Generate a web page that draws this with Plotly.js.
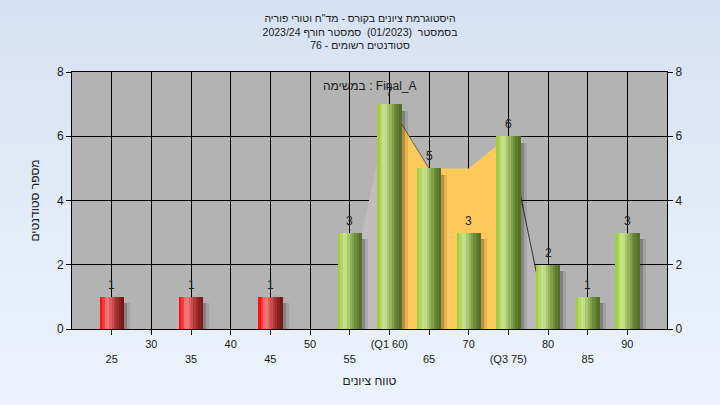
<!DOCTYPE html>
<html>
<head>
<meta charset="utf-8">
<script src="https://cdn.plot.ly/plotly-3.0.1.min.js"></script>
<style>
  html, body { margin:0; padding:0; width:720px; height:405px; overflow:hidden;
    background: linear-gradient(180deg, #d5e2f3 0%, #e3ecf8 55%, #edf3fc 100%); }
  #chart { width:720px; height:405px; }
</style>
</head>
<body>
<div id="chart"></div>
<script>
// ---- data ----
const grades = [25, 35, 45, 55, 60, 65, 70, 75, 80, 85, 90];
const counts = [1, 1, 1, 3, 7, 5, 3, 6, 2, 1, 3];
const passMark = 55;

const row1Ticks  = [30, 40, 50, 60, 70, 80, 90];
const row1Labels = ['30', '40', '50', '(Q1 60)', '70', '80', '90'];
const row2Ticks  = [25, 35, 45, 55, 65, 75, 85];
const row2Labels = ['25', '35', '45', '55', '65', '(Q3 75)', '85'];

const distX = [54, 60, 65, 70, 75, 80];
const distY = [0, 7, 5, 5, 6, 0];
const q1 = 60, q3 = 75;

const titleLines = [
  'היסטוגרמת ציונים בקורס - מד"ח וטורי פוריה',
  'בסמסטר  (01/2023)  סמסטר חורף 2023/24',
  'סטודנטים רשומים - 76'
];
const taskLabel = 'במשימה : Final_A';
const xTitle = 'טווח ציונים';
const yTitle = 'מספר סטודנטים';

// ---- styles ----
const greenShades = ['#a2cc44','#b4d866','#c4e287','#c0dc88','#aac872','#94b45c','#80a04a','#6e8c3c','#607e32','#56702a'];
const redShades   = ['#ff1010','#fa3a3a','#f46c6c','#ec7878','#dc6060','#c84c4c','#b23a3a','#9c2c2c','#8a2020','#7a1818'];
const barW = 3.0;
const font = 'Liberation Sans, Arial, sans-serif';

const traces = [];

// distribution area (main subplot, underneath the bars)
function sel(cond) {
  const xs = [], ys = [];
  distX.forEach((x, i) => { if (cond(x)) { xs.push(x); ys.push(distY[i]); } });
  return {xs, ys};
}
const left = sel(x => x <= q1), mid = sel(x => x >= q1 && x <= q3), right = sel(x => x >= q3);
traces.push({type:'scatter', mode:'lines', x:left.xs, y:left.ys, fill:'tozeroy',
  fillcolor:'#bdbdbd', line:{width:0}, hoverinfo:'skip'});
traces.push({type:'scatter', mode:'lines', x:mid.xs, y:mid.ys, fill:'tozeroy',
  fillcolor:'#fdc95b', line:{width:0}, hoverinfo:'skip'});
traces.push({type:'scatter', mode:'lines', x:mid.xs.slice(0, 2), y:mid.ys.slice(0, 2),
  line:{width:1, color:'rgba(60,60,60,0.7)'}, hoverinfo:'skip'});
traces.push({type:'scatter', mode:'lines', x:right.xs, y:right.ys, fill:'tozeroy',
  fillcolor:'#b9b9b9', line:{width:1, color:'#333'}, hoverinfo:'skip'});

// shadows (overlay subplot)
traces.push({type:'bar', x:grades, y:counts.map(c => c - 0.2), offset:barW/2, width:0.8,
  marker:{color:'rgba(0,0,0,0.10)', line:{width:0}}, xaxis:'x2', yaxis:'y2', hoverinfo:'skip'});
traces.push({type:'bar', x:grades, y:counts.map(c => c - 0.2), offset:barW/2, width:0.45,
  marker:{color:'rgba(0,0,0,0.20)', line:{width:0}}, xaxis:'x2', yaxis:'y2', hoverinfo:'skip'});

// cylinder bars as strips
const n = greenShades.length;
for (let i = 0; i < n; i++) {
  traces.push({type:'bar', x:grades, y:counts,
    offset: -barW/2 + i*barW/n, width: barW/n + 0.04,
    marker:{color: grades.map(g => g < passMark ? redShades[i] : greenShades[i]), line:{width:0}},
    xaxis:'x2', yaxis:'y2', hoverinfo:'skip'});
}

// value labels above the bars
const valueLabels = grades.map((g, i) => ({
  x:g, y:counts[i], xref:'x2', yref:'y2', text:String(counts[i]), showarrow:false,
  yanchor:'middle', yshift:12, font:{size:12, color:'#222', family:font}}));

const layout = {
  width:720, height:405,
  margin:{l:72, r:53, t:72, b:76},
  paper_bgcolor:'rgba(0,0,0,0)', plot_bgcolor:'#b3b3b3',
  showlegend:false, barmode:'overlay', bargap:0,
  font:{family:font, color:'#1a1a1a'},
  title:{text:titleLines.join('<br>'), font:{size:10.5, color:'#1a1a1a', family:font},
    x:0.5, xref:'container', y:0.946, yref:'container', yanchor:'top'},
  xaxis:{range:[20,95], tickmode:'array',
    tickvals:[...row1Ticks, ...row2Ticks],
    ticktext:[...row1Labels, ...row2Ticks.map(() => '')],
    ticks:'outside', ticklen:5, tickcolor:'#000', tickwidth:1,
    showline:true, linecolor:'#000', linewidth:1, mirror:true,
    showgrid:true, gridcolor:'#000', gridwidth:1, zeroline:false,
    tickfont:{size:11, color:'#1a1a1a'},
    title:{text:xTitle, font:{size:12, color:'#1a1a1a'}, standoff:27}},
  xaxis2:{range:[20,95], overlaying:'x', anchor:'y', side:'bottom', tickmode:'array',
    tickvals:row2Ticks, ticktext:row2Labels, ticks:'', showgrid:false, showline:false,
    zeroline:false, ticklabelstandoff:22, tickfont:{size:11, color:'#1a1a1a'}},
  yaxis:{range:[0,8], tickmode:'linear', tick0:0, dtick:2,
    ticks:'outside', ticklen:5, tickcolor:'#000',
    showline:true, linecolor:'#000', linewidth:1, mirror:true,
    showgrid:true, gridcolor:'#000', gridwidth:1, zeroline:false,
    tickfont:{size:12, color:'#1a1a1a'},
    title:{text:yTitle, font:{size:12, color:'#1a1a1a'}, standoff:14}},
  yaxis2:{range:[0,8], overlaying:'y', anchor:'x', side:'right', tickmode:'linear', tick0:0, dtick:2,
    ticks:'outside', ticklen:5, tickcolor:'#000', showgrid:false, zeroline:false, showline:false,
    tickfont:{size:12, color:'#1a1a1a'}},
  annotations:[{text:taskLabel, xref:'paper', x:0.5, yref:'paper', y:1, yshift:-14,
    yanchor:'middle', showarrow:false, font:{size:12, color:'#1a1a1a'}}, ...valueLabels]
};

Plotly.newPlot('chart', traces, layout, {staticPlot:true, displayModeBar:false});
</script>
</body>
</html>
